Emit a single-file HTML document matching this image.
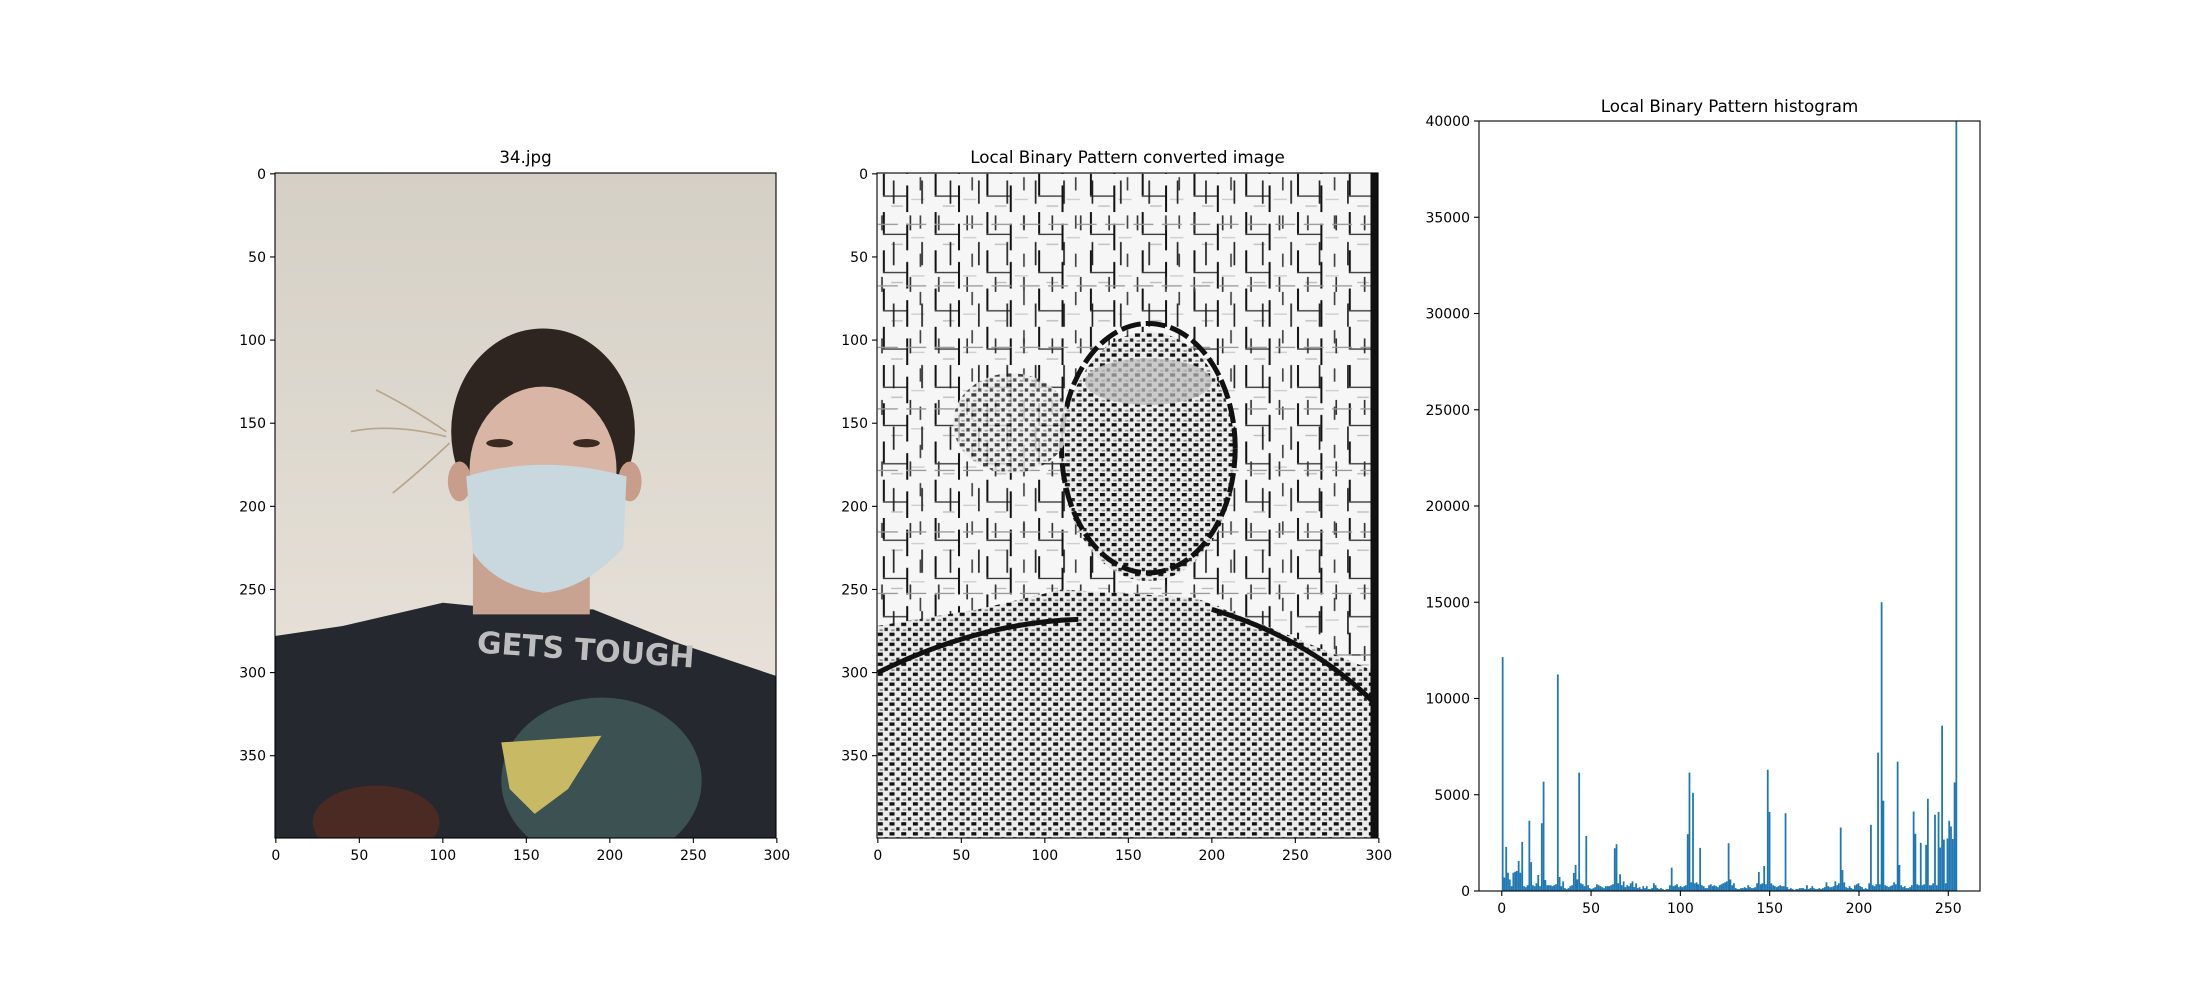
<!DOCTYPE html>
<html><head><meta charset="utf-8"><title>LBP figure</title>
<style>
html,body{margin:0;padding:0;background:#fff;}
svg text{font-family:"DejaVu Sans","Liberation Sans",sans-serif;fill:#000;}
</style></head>
<body>
<svg id="fig" width="2200" height="1000" viewBox="0 0 2200 1000" xmlns="http://www.w3.org/2000/svg">
<defs>
  <linearGradient id="wall" x1="0" y1="0" x2="0" y2="1">
    <stop offset="0" stop-color="#d5d0c6"/><stop offset="1" stop-color="#ece6de"/>
  </linearGradient>
  <pattern id="sparse" width="31" height="23" patternUnits="userSpaceOnUse">
    <rect width="31" height="23" fill="#f6f6f6"/>
    <rect x="3" y="0" width="1.2" height="13" fill="#111"/>
    <rect x="17" y="7" width="1.2" height="16" fill="#111"/>
    <rect x="3" y="13" width="14" height="0.8" fill="#333"/>
    <rect x="25" y="2" width="1" height="8" fill="#444"/>
    <rect x="8" y="19" width="7" height="0.8" fill="#bbb"/>
    <rect x="20" y="15" width="8" height="0.8" fill="#ccc"/>
  </pattern>
  <pattern id="sparse2" width="17" height="37" patternUnits="userSpaceOnUse">
    <rect x="9" y="4" width="1" height="14" fill="#222"/>
    <rect x="2" y="25" width="1" height="9" fill="#333"/>
    <rect x="0" y="30" width="12" height="0.8" fill="#999"/>
  </pattern>
  <pattern id="dense" width="7" height="6" patternUnits="userSpaceOnUse">
    <rect width="7" height="6" fill="#ececec"/>
    <rect x="0" y="0" width="3" height="2" fill="#111"/>
    <rect x="4" y="3" width="2" height="2" fill="#222"/>
    <rect x="1" y="4" width="2" height="1" fill="#888"/>
  </pattern>
  <clipPath id="histclip"><rect x="1479" y="121" width="501" height="770"/></clipPath>
</defs>

<!-- Panel 1: photo -->
<text x="525.5" y="163" font-size="16.7" text-anchor="middle">34.jpg</text>
<svg x="275" y="173" width="501" height="665" viewBox="-0.5 -0.5 300 400" preserveAspectRatio="none">
  <rect x="-0.5" y="-0.5" width="300" height="400" fill="url(#wall)"/>
  <g stroke="#b8a58a" stroke-width="1" fill="none">
    <path d="M102 155 Q80 140 60 130"/><path d="M102 158 Q70 150 45 155"/><path d="M104 162 Q85 180 70 192"/>
  </g>
  <path d="M-0.5 278 L40 272 L100 258 L140 262 L190 262 L240 282 L299.5 302 L299.5 399.5 L-0.5 399.5 Z" fill="#25282f"/>
  <rect x="118" y="225" width="70" height="40" fill="#c8a391"/>
  <ellipse cx="160" cy="155" rx="55" ry="62" fill="#2e2520"/>
  <ellipse cx="160" cy="178" rx="44" ry="50" fill="#d8b5a4"/>
  <ellipse cx="110" cy="185" rx="7" ry="12" fill="#c99d8b"/><ellipse cx="212" cy="185" rx="7" ry="12" fill="#c99d8b"/>
  <ellipse cx="134" cy="162" rx="8" ry="2.5" fill="#3a2a22"/><ellipse cx="186" cy="162" rx="8" ry="2.5" fill="#3a2a22"/>
  <path d="M114 182 Q160 168 210 182 L208 225 Q185 250 160 252 Q132 248 118 228 Z" fill="#c8d8de"/>
  <text x="120" y="290" font-size="18" font-weight="bold" style="fill:#bdbdbd" transform="rotate(4 150 290)">GETS TOUGH</text>
  <ellipse cx="195" cy="365" rx="60" ry="50" fill="#3c5151"/>
  <path d="M135 342 L195 338 L175 370 L155 385 L140 370 Z" fill="#c8b965"/>
  <ellipse cx="60" cy="390" rx="38" ry="22" fill="#4a2a22"/>
</svg>
<rect x="275" y="173" width="501" height="665" fill="none" stroke="#000" stroke-width="1.1"/>
<g id="ax1ticks"></g>

<!-- Panel 2: LBP image -->
<text x="1127.5" y="163" font-size="16.7" text-anchor="middle">Local Binary Pattern converted image</text>
<svg x="877" y="173" width="501" height="665" viewBox="-0.5 -0.5 300 400" preserveAspectRatio="none">
  <rect x="-0.5" y="-0.5" width="300" height="400" fill="url(#sparse)"/>
  <rect x="-0.5" y="-0.5" width="300" height="400" fill="url(#sparse2)"/>
  <path d="M-0.5 272 L60 262 L110 250 L190 255 L240 275 L299.5 300 L299.5 399.5 L-0.5 399.5 Z" fill="url(#dense)"/>
  <ellipse cx="162" cy="170" rx="52" ry="75" fill="url(#dense)"/>
  <ellipse cx="162" cy="165" rx="52" ry="75" fill="none" stroke="#111" stroke-width="3" stroke-dasharray="12 3"/>
  <ellipse cx="162" cy="125" rx="38" ry="14" fill="#bcbcbc" opacity="0.7"/>
  <ellipse cx="80" cy="150" rx="35" ry="30" fill="url(#dense)" opacity="0.8"/>
  <path d="M0 300 Q60 270 120 268" stroke="#111" stroke-width="3" fill="none"/>
  <path d="M200 262 Q260 280 299 320" stroke="#111" stroke-width="3" fill="none"/>
  <rect x="295" y="-0.5" width="4.5" height="400" fill="#111"/>
</svg>
<rect x="877" y="173" width="501" height="665" fill="none" stroke="#000" stroke-width="1.1"/>
<g id="ax2ticks"></g>

<!-- Panel 3: histogram -->
<text x="1729.5" y="112" font-size="16.7" text-anchor="middle">Local Binary Pattern histogram</text>
<g id="bars" clip-path="url(#histclip)"></g>
<rect x="1479" y="121" width="501" height="770" fill="none" stroke="#000" stroke-width="1.1"/>
<g id="ax3ticks"></g>
</svg>

<script>
const imgXTicks = [0, 50, 100, 150, 200, 250, 300];
const imgYTicks = [0, 50, 100, 150, 200, 250, 300, 350];
const histXTicks = [0, 50, 100, 150, 200, 250];
const histYTicks = [0, 5000, 10000, 15000, 20000, 25000, 30000, 35000, 40000];
const histCounts = [
12150,700,2290,950,600,250,950,1000,1040,1560,950,2550,250,200,300,3650,1500,300,250,400,
830,250,3520,5680,570,300,300,300,250,300,350,11250,730,250,500,150,100,150,250,300,
940,1350,600,6150,400,350,250,2860,300,150,100,150,200,350,300,250,200,150,250,250,
250,300,350,2220,2430,400,870,300,500,200,300,250,400,500,200,400,150,200,100,250,
150,250,100,100,150,400,300,150,100,150,100,50,100,100,300,1215,250,300,350,200,
250,200,250,300,2950,6150,450,5100,400,450,350,2240,300,250,150,150,300,350,250,300,
250,200,300,350,400,450,500,2480,600,300,400,150,100,100,150,150,200,150,300,200,
150,150,200,400,990,350,400,1300,350,6300,4110,400,300,250,200,250,300,250,250,4040,
200,100,150,100,50,100,100,150,150,150,100,300,100,150,250,150,100,100,150,100,
150,200,450,250,200,200,250,500,300,400,3300,1090,450,200,150,250,150,100,300,350,
400,250,200,100,150,100,400,3440,300,250,350,7190,350,15000,4690,300,250,200,250,300,
450,350,6720,1350,300,200,250,150,150,200,300,4130,2970,350,300,2500,300,350,2400,4790,
300,300,400,3960,300,4110,2260,8590,2670,400,2730,3650,3350,2700,5640,45000
];

const NS = 'http://www.w3.org/2000/svg';
function mk(tag, attrs, parent){const e=document.createElementNS(NS,tag);for(const k in attrs)e.setAttribute(k,attrs[k]);parent.appendChild(e);return e;}

function imgAxes(gid, x0){
  const g=document.getElementById(gid);
  const sx=v=>x0+(v+0.5)*501/300, sy=v=>173+(v+0.5)*665/400;
  imgXTicks.forEach(v=>{
    const l=mk('line',{x1:sx(v),x2:sx(v),y1:838,y2:843,stroke:'#000','stroke-width':1.1},g);
    
    
    const t=mk('text',{x:sx(v),y:860,'font-size':14,'text-anchor':'middle'},g);
    
    
    t.textContent=v;
  });
  imgYTicks.forEach(v=>{
    const l=mk('line',{x1:x0-5,x2:x0,y1:sy(v),y2:sy(v),stroke:'#000','stroke-width':1.1},g);
    
    
    const t=mk('text',{x:x0-9,y:sy(v)+5,'font-size':14,'text-anchor':'end'},g);
    
    
    t.textContent=v;
  });
}
imgAxes('ax1ticks',275);
imgAxes('ax2ticks',877);

const HX0=1479,HW=501,HY0=121,HH=770,XMIN=-12.75,XMAX=267.75,YMAX=40000;
const hx=v=>HX0+(v-XMIN)/(XMAX-XMIN)*HW;
const hy=v=>HY0+HH-v/YMAX*HH;
const bg=document.getElementById('bars');
const bw=255/256;
histCounts.forEach((c,i)=>{
  const x1=hx(i*bw), x2=hx((i+1)*bw);
  const r=mk('rect',{x:x1,y:hy(c),width:Math.max(x2-x1,0.5),height:hy(0)-hy(c),fill:'#1f77b4'},bg);
  
  
});
const g3=document.getElementById('ax3ticks');
histXTicks.forEach(v=>{
  const l=mk('line',{x1:hx(v),x2:hx(v),y1:891,y2:896,stroke:'#000','stroke-width':1.1},g3);
  
  
  const t=mk('text',{x:hx(v),y:913,'font-size':14,'text-anchor':'middle'},g3);
  
  
  t.textContent=v;
});
histYTicks.forEach(v=>{
  const l=mk('line',{x1:HX0-5,x2:HX0,y1:hy(v),y2:hy(v),stroke:'#000','stroke-width':1.1},g3);
  
  
  const t=mk('text',{x:HX0-9,y:hy(v)+5,'font-size':14,'text-anchor':'end'},g3);
  
  
  t.textContent=v;
});
</script>
</body></html>
